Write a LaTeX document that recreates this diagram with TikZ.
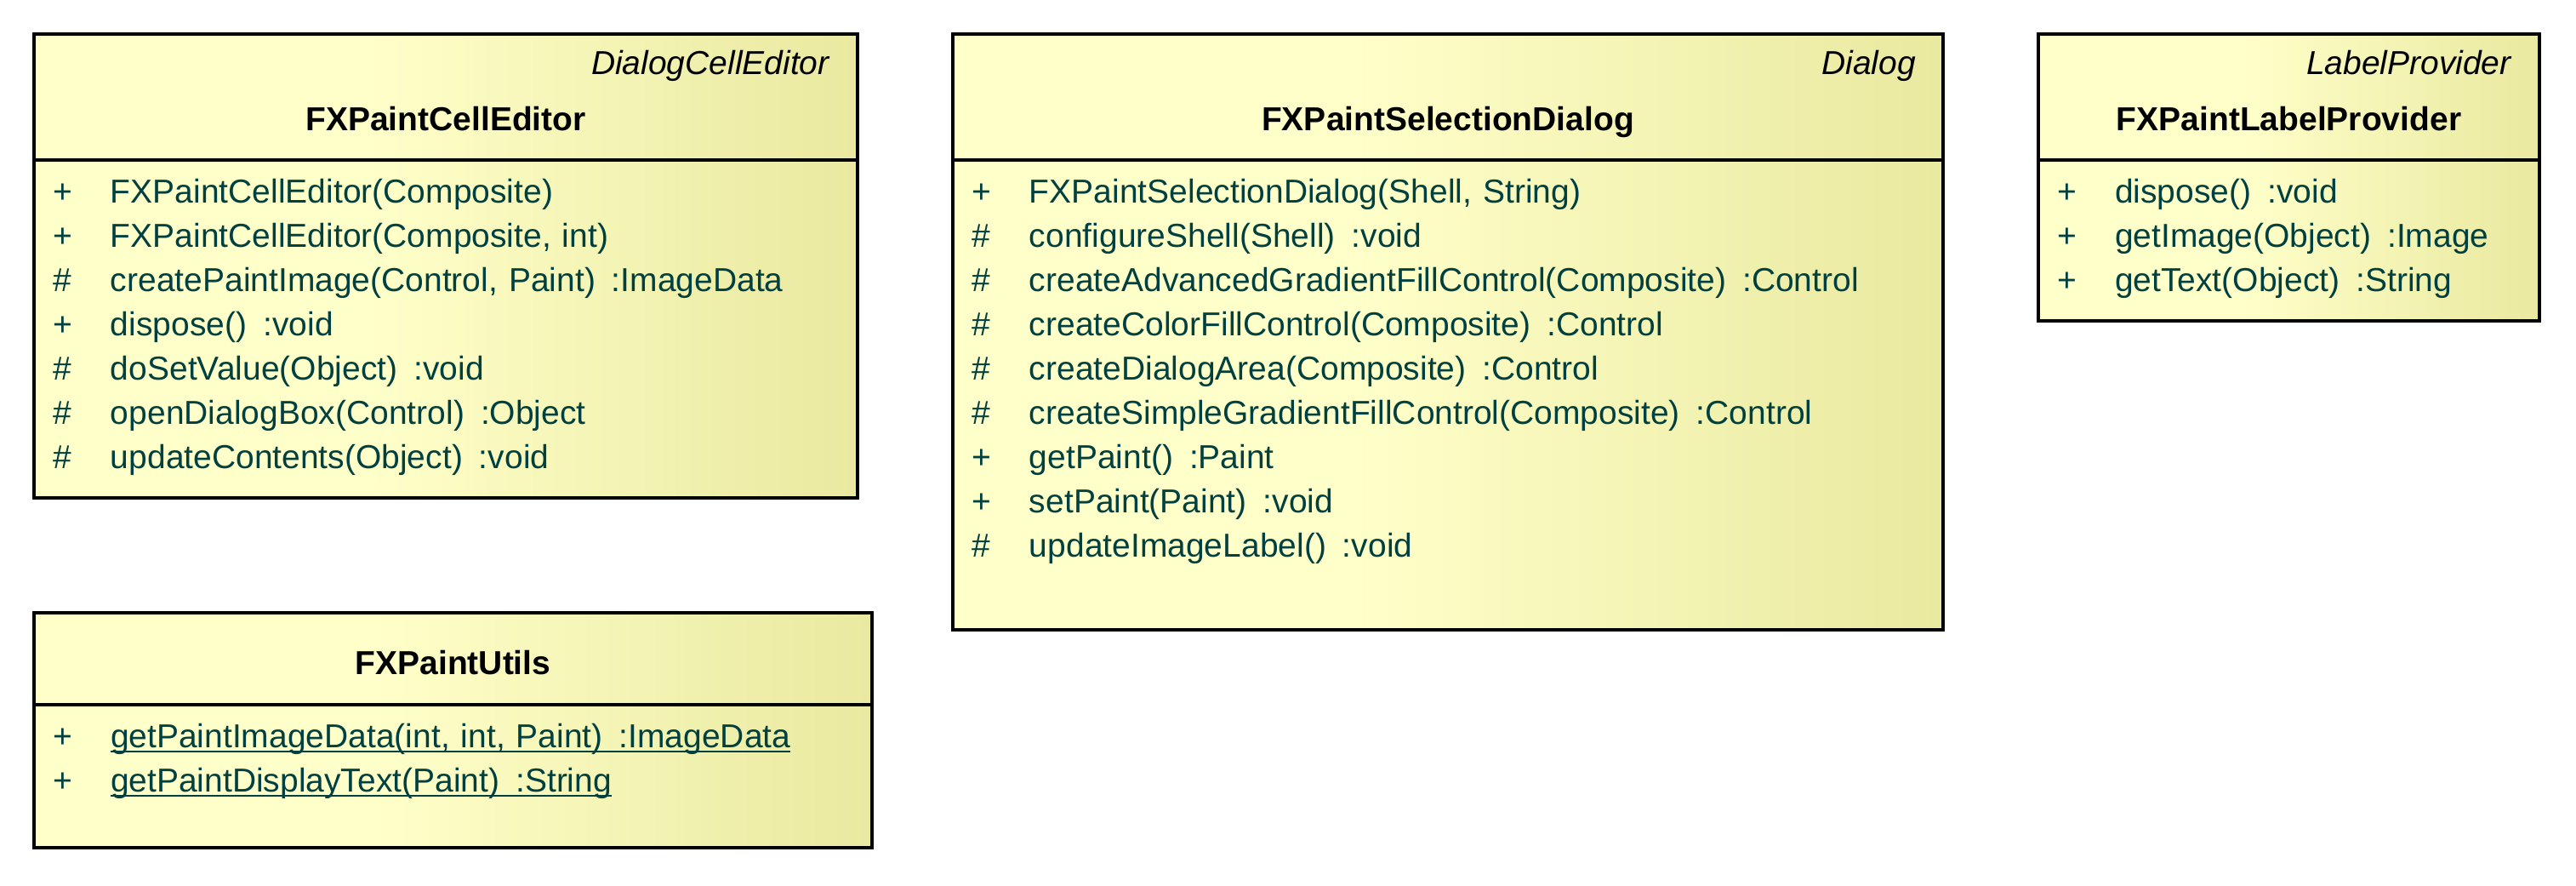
\documentclass[tikz,border=0pt]{standalone}
\usepackage{fontspec}
\setmainfont{Liberation Sans}
\usepackage{tikz}
\usetikzlibrary{positioning}
\definecolor{umlyellow}{RGB}{255,255,202}
\definecolor{umlkhaki}{RGB}{233,233,160}
\definecolor{opteal}{RGB}{0,64,64}
\pgfdeclarehorizontalshading{classfill}{100bp}{color(0bp)=(umlyellow); color(45bp)=(umlyellow); color(75bp)=(umlkhaki); color(100bp)=(umlkhaki)}
\newcommand{\Pub}[1]{\makebox[34pt][l]{+}#1}
\newcommand{\Prot}[1]{\makebox[34pt][l]{\#}#1}
\newcommand{\Ret}{\hspace{9.5pt}}
\newsavebox{\stbox}
\newcommand{\Static}[1]{\sbox{\stbox}{#1}\rlap{\rule[-3.2pt]{\wd\stbox}{1.1pt}}\usebox{\stbox}}

\begin{document}
\begin{tikzpicture}[x=1pt,y=1pt,
		classhead/.style={draw,line width=1.6pt,shade,shading=classfill,outer sep=0pt,
			inner ysep=0pt,inner xsep=16pt,align=center,font=\fontsize{19.5pt}{33pt}\selectfont},
		classbody/.style={draw,line width=1.6pt,shade,shading=classfill,outer sep=0pt,
			inner ysep=0pt,inner xsep=11pt,align=left,text=opteal,font=\fontsize{19.5pt}{26pt}\selectfont}]
		
		\useasboundingbox (0,0) rectangle (1514,-520);
		
		\node[classhead,anchor=north west,text width=452pt,text height=23.5pt,text depth=50.5pt] (cellEditorHead) at (20,-20)
		{\hskip0pt plus1filll\textit{DialogCellEditor}\\ \textbf{FXPaintCellEditor}};
		\node[classbody,text width=462pt,text height=25pt,text depth=173.5pt] (cellEditorBody) [below=0pt of cellEditorHead]
		{\Pub{FXPaintCellEditor(Composite)}\\
			\Pub{FXPaintCellEditor(Composite, int)}\\
			\Prot{createPaintImage(Control, Paint)\Ret:ImageData}\\
			\Pub{dispose()\Ret:void}\\
			\Prot{doSetValue(Object)\Ret:void}\\
			\Prot{openDialogBox(Control)\Ret:Object}\\
			\Prot{updateContents(Object)\Ret:void}};
		
		\node[classhead,text width=550pt,text height=23.5pt,text depth=50.5pt] (selectionHead) [right=56pt of cellEditorHead]
		{\hskip0pt plus1filll\textit{Dialog}\\ \textbf{FXPaintSelectionDialog}};
		\node[classbody,text width=560pt,text height=25pt,text depth=251pt] (selectionBody) [below=0pt of selectionHead]
		{\Pub{FXPaintSelectionDialog(Shell, String)}\\
			\Prot{configureShell(Shell)\Ret:void}\\
			\Prot{createAdvancedGradientFillControl(Composite)\Ret:Control}\\
			\Prot{createColorFillControl(Composite)\Ret:Control}\\
			\Prot{createDialogArea(Composite)\Ret:Control}\\
			\Prot{createSimpleGradientFillControl(Composite)\Ret:Control}\\
			\Pub{getPaint()\Ret:Paint}\\
			\Pub{setPaint(Paint)\Ret:void}\\
			\Prot{updateImageLabel()\Ret:void}};
		
		\node[classhead,text width=262.5pt,text height=23.5pt,text depth=50.5pt] (labelHead) [right=56pt of selectionHead]
		{\hskip0pt plus1filll\textit{LabelProvider}\\ \textbf{FXPaintLabelProvider}};
		\node[classbody,text width=272.5pt,text height=25pt,text depth=69.5pt] (labelBody) [below=0pt of labelHead]
		{\Pub{dispose()\Ret:void}\\
			\Pub{getImage(Object)\Ret:Image}\\
			\Pub{getText(Object)\Ret:String}};
		
		\node[classhead,text width=460.5pt,text height=36pt,text depth=18pt] (utilsHead) [below=67.5pt of cellEditorBody.south west,anchor=north west]
		{\textbf{FXPaintUtils}};
		\node[classbody,text width=470.5pt,text height=25pt,text depth=59pt] (utilsBody) [below=0pt of utilsHead]
		{\Pub{\Static{getPaintImageData(int, int, Paint)\Ret:ImageData}}\\
			\Pub{\Static{getPaintDisplayText(Paint)\Ret:String}}};
		
\end{tikzpicture}
\end{document}
